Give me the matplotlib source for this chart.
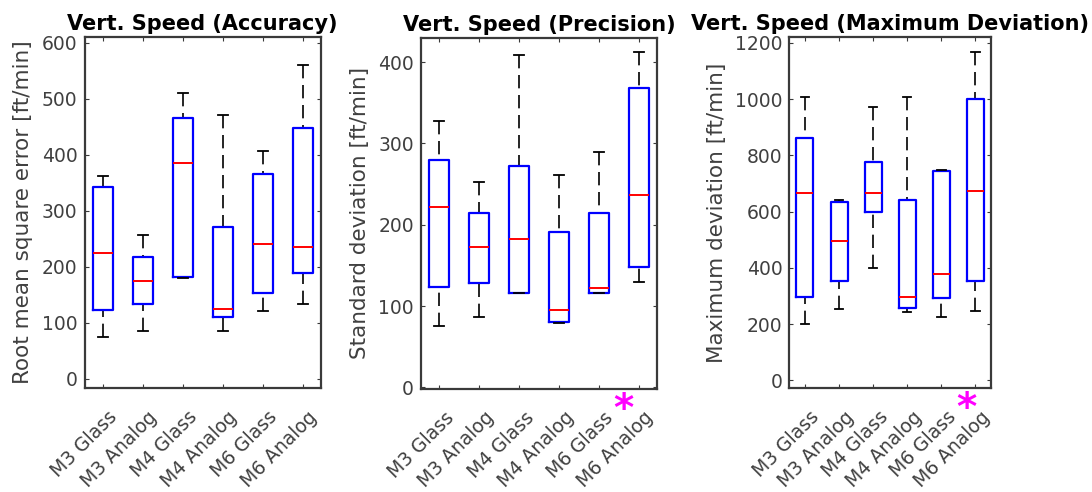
import matplotlib
matplotlib.use("Agg")
import matplotlib.pyplot as plt
from matplotlib.transforms import ScaledTranslation, blended_transform_factory

plt.rcParams['font.family'] = ['DejaVu Sans']

categories = ["M3 Glass", "M3 Analog", "M4 Glass", "M4 Analog", "M6 Glass", "M6 Analog"]

# Panel 1: Accuracy (RMSE)
acc_whislo = [75, 85, 180, 85, 121, 133]
acc_q1 = [122, 134, 181, 111, 154, 189]
acc_med = [224, 175, 385, 124, 240, 236]
acc_q3 = [342, 218, 465, 271, 365, 448]
acc_whishi = [362, 257, 510, 472, 407, 560]

# Panel 2: Precision (standard deviation)
pre_whislo = [76, 86, 116, 79, 116, 129]
pre_q1 = [124, 128, 116, 81, 116, 148]
pre_med = [222, 173, 182, 95, 122, 236]
pre_q3 = [280, 214, 272, 191, 214, 368]
pre_whishi = [327, 252, 409, 261, 289, 412]

# Panel 3: Maximum deviation
max_whislo = [200, 253, 399, 245, 227, 248]
max_q1 = [296, 355, 598, 257, 292, 352]
max_med = [668, 494, 666, 298, 378, 672]
max_q3 = [861, 634, 776, 642, 745, 1001]
max_whishi = [1007, 642, 971, 1009, 749, 1169]

titles = ["Vert. Speed (Accuracy)", "Vert. Speed (Precision)", "Vert. Speed (Maximum Deviation)"]
ylabels = ["Root mean square error [ft/min]", "Standard deviation [ft/min]", "Maximum deviation [ft/min]"]
yticks = [list(range(0, 601, 100)), list(range(0, 401, 100)), list(range(0, 1201, 200))]
ylims = [(-17, 611), (-2, 430), (-28, 1220)]
star_x = [None, 5.62, 5.75]

panels = [
    (acc_whislo, acc_q1, acc_med, acc_q3, acc_whishi),
    (pre_whislo, pre_q1, pre_med, pre_q3, pre_whishi),
    (max_whislo, max_q1, max_med, max_q3, max_whishi),
]

W, H = 1092, 492
fig = plt.figure(figsize=(W / 100, H / 100), dpi=100)
rects = [
    (84.5, 36.7, 320.7, 388.3),
    (421.0, 37.7, 656.7, 389.0),
    (789.3, 37.3, 990.7, 388.3),
]

axcol = '#3a3a3a'
txtcol = '#404040'

for i, (data, (l, t, r, b)) in enumerate(zip(panels, rects)):
    ax = fig.add_axes([l / W, 1 - b / H, (r - l) / W, (b - t) / H])
    wlo, q1, med, q3, whi = data
    stats = []
    for k in range(len(categories)):
        stats.append(dict(med=med[k], q1=q1[k], q3=q3[k], whislo=wlo[k], whishi=whi[k], fliers=[]))
    res = ax.bxp(stats, positions=range(1, 7), widths=0.5, showfliers=False, capwidths=0.25,
                 boxprops=dict(color='#0000ff', linewidth=1.6),
                 medianprops=dict(color='#ff0000', linewidth=1.4),
                 whiskerprops=dict(color='black', linewidth=1.2, linestyle=(0, (8, 4))),
                 capprops=dict(color='black', linewidth=1.3))
    for w in res['whiskers']:
        xd, yd = w.get_data()
        w.set_data(list(xd)[::-1], list(yd)[::-1])
        w.set_zorder(1.5)
    for bx in res['boxes']:
        bx.set_zorder(2)
    for m in res['medians']:
        m.set_zorder(3)

    ax.set_xlim(0.54, 6.45)
    ax.set_ylim(*ylims[i])
    ax.set_yticks(yticks[i])
    ax.set_xticks(range(1, 7))
    ax.set_xticklabels(categories, rotation=45, ha='right', va='top', rotation_mode='anchor')
    ax.tick_params(direction='in', length=3, width=0.8, color=axcol, labelcolor=txtcol,
                   labelsize=13.5, top=True, right=True, pad=5)
    for sp in ax.spines.values():
        sp.set_color(axcol)
        sp.set_linewidth(1.6)
    ax.set_title(titles[i], fontsize=15, fontweight='bold', color='black', pad=5)
    ax.set_ylabel(ylabels[i], fontsize=15.5, color=txtcol, labelpad=6)
    for lab in ax.get_xticklabels():
        lab.set_transform(lab.get_transform() + ScaledTranslation(5 / 100, -12 / 100, fig.dpi_scale_trans))
    if star_x[i] is not None:
        tr = blended_transform_factory(ax.transData, ax.transAxes)
        ax.text(star_x[i], -0.06, '*', transform=tr, color='#ff00ff', fontsize=28,
                fontweight='bold', ha='center', va='center')

fig.savefig('out.png', dpi=100)
